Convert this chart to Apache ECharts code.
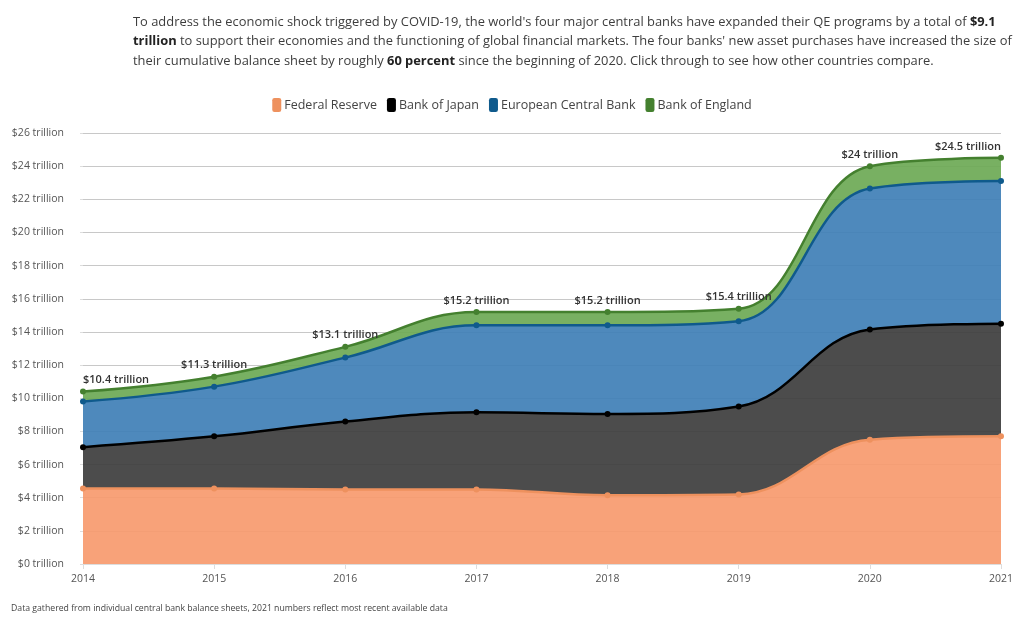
<!DOCTYPE html>
<html>
<head>
<meta charset="utf-8">
<title>Central bank balance sheets</title>
<script src="https://cdn.jsdelivr.net/npm/echarts@6/dist/echarts.min.js"></script>
<style>
  html, body { margin: 0; padding: 0; background: #fff; }
  #chart { width: 1024px; height: 623px; }
</style>
</head>
<body>
<div id="chart"></div>
<script>
const years = ['2014', '2015', '2016', '2017', '2018', '2019', '2020', '2021'];

// each bank's own share, the series are stacked
const fedReserve = [4.55, 4.55, 4.5, 4.5, 4.15, 4.2, 7.5, 7.7];
const bankOfJapan = [2.5, 3.15, 4.1, 4.65, 4.9, 5.3, 6.65, 6.8];
const ecb = [2.75, 3.0, 3.85, 5.25, 5.35, 5.15, 8.5, 8.6];
const bankOfEngland = [0.6, 0.6, 0.65, 0.8, 0.8, 0.75, 1.35, 1.4];

const totalLabels = ['$10.4 trillion', '$11.3 trillion', '$13.1 trillion', '$15.2 trillion',
  '$15.2 trillion', '$15.4 trillion', '$24 trillion', '$24.5 trillion'];

const chart = echarts.init(document.getElementById('chart'));

const makeSeries = (name, values, lineColor, fillColor) => ({
  name: name,
  type: 'line',
  stack: 'total',
  smooth: 0.4,
  symbol: 'circle',
  symbolSize: 6,
  showSymbol: true,
  data: values,
  lineStyle: { color: lineColor, width: 2.5 },
  itemStyle: { color: lineColor },
  areaStyle: { color: fillColor, opacity: 0.92 }
});

const topSeries = makeSeries('Bank of England', bankOfEngland, '#44802f', '#6da955');
// the outer labels are pulled inwards so they stay inside the plot
topSeries.data = bankOfEngland.map((v, i) => ({
  value: v,
  label: {
    show: true,
    position: 'top',
    distance: 3,
    formatter: totalLabels[i],
    color: '#333',
    fontFamily: 'Open Sans',
    fontSize: 11,
    fontWeight: 600,
    align: i === 0 ? 'left' : (i === years.length - 1 ? 'right' : 'center')
  }
}));

chart.setOption({
  animation: false,
  backgroundColor: '#fff',
  title: {
    left: 128,
    top: 7,
    text: '{a|To address the economic shock triggered by COVID-19, the world\'s four major central banks have expanded their QE programs by a total of }{b|$9.1}\n'
      + '{b|trillion}{a| to support their economies and the functioning of global financial markets. The four banks\' new asset purchases have increased the size of}\n'
      + '{a|their cumulative balance sheet by roughly }{b|60 percent}{a| since the beginning of 2020. Click through to see how other countries compare.}',
    textStyle: {
      fontWeight: 'normal',
      rich: {
        a: { fontFamily: 'Open Sans', fontSize: 12.9, fontWeight: 'normal', color: '#3d3d3d', lineHeight: 19.7 },
        b: { fontFamily: 'Open Sans', fontSize: 12.9, color: '#222', fontWeight: 'bold', lineHeight: 19.7 }
      }
    }
  },
  legend: {
    top: 93,
    left: 'center',
    icon: 'roundRect',
    itemWidth: 9,
    itemHeight: 14,
    itemGap: 10,
    textStyle: { fontFamily: 'Open Sans', fontSize: 12.5, color: '#444', padding: [0, 0, 0, -2] },
    data: ['Federal Reserve', 'Bank of Japan', 'European Central Bank', 'Bank of England']
  },
  grid: { left: 83, right: 23, top: 133, bottom: 59 },
  xAxis: {
    type: 'category',
    boundaryGap: false,
    data: years,
    axisLine: { lineStyle: { color: '#ddd' } },
    axisTick: { lineStyle: { color: '#ddd' } },
    axisLabel: { color: '#555', fontFamily: 'Open Sans', fontSize: 10.5, margin: 10 }
  },
  yAxis: {
    type: 'value',
    min: 0,
    max: 26,
    interval: 2,
    axisLine: { show: false },
    axisTick: { show: true, length: 3, lineStyle: { color: '#ddd' } },
    axisLabel: {
      color: '#555',
      fontFamily: 'Open Sans',
      fontSize: 10.5,
      margin: 19,
      formatter: (v) => '$' + v + ' trillion'
    },
    splitLine: { lineStyle: { color: '#c8c8c8', width: 1 } }
  },
  series: [
    makeSeries('Federal Reserve', fedReserve, '#ee915e', '#f79a6e'),
    makeSeries('Bank of Japan', bankOfJapan, '#000000', '#3d3d3d'),
    makeSeries('European Central Bank', ecb, '#0f5a8c', '#3f7fb6'),
    topSeries
  ],
  graphic: [{
    type: 'text',
    left: 11,
    top: 604,
    style: {
      text: 'Data gathered from individual central bank balance sheets, 2021 numbers reflect most recent available data',
      fontFamily: 'Open Sans',
      fontSize: 8.7,
      fill: '#444'
    }
  }]
});
</script>
</body>
</html>
